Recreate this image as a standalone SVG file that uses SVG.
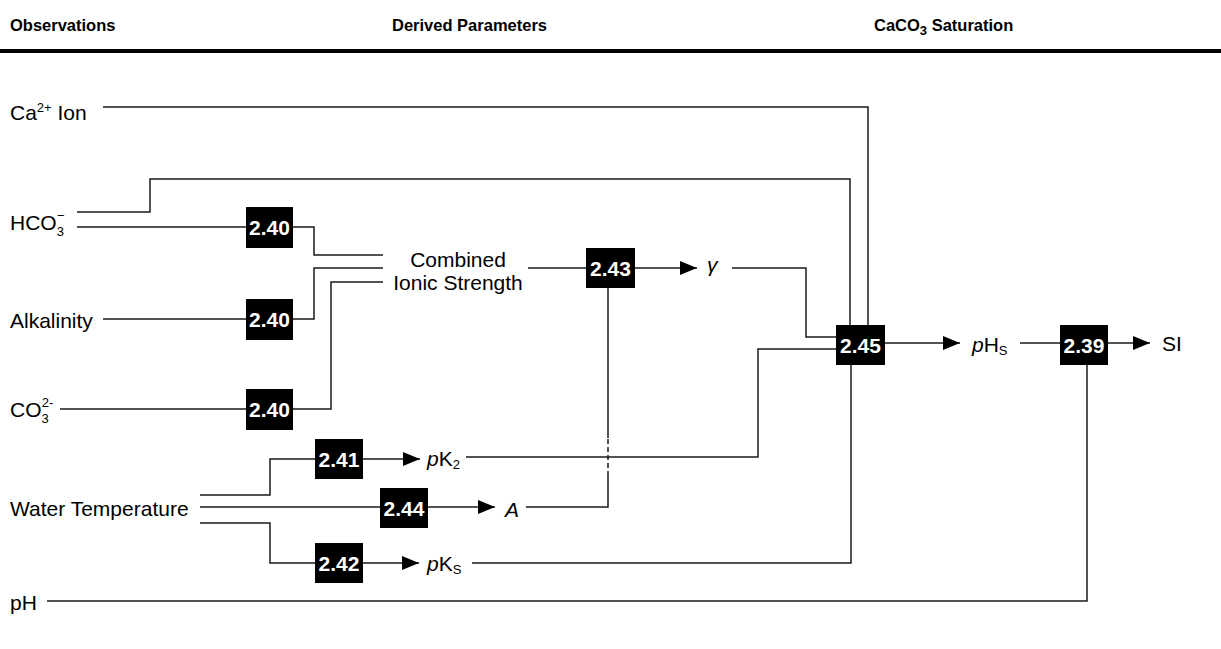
<svg xmlns="http://www.w3.org/2000/svg" width="1221" height="649" viewBox="0 0 1221 649">
<style>
.h{font-family:"Liberation Sans",Arial,sans-serif;font-size:16.5px;font-weight:bold;fill:#000}
.t{font-family:"Liberation Sans",Arial,sans-serif;font-size:21px;fill:#000}
.s{font-size:13px}
.i{font-style:italic}
.bx{fill:#000}
.bt{font-family:"Liberation Sans",Arial,sans-serif;font-size:21px;font-weight:bold;fill:#fff;text-anchor:middle}
.c{fill:none;stroke:#1a1a1a;stroke-width:1.5}
.a{marker-end:url(#arr)}
</style>
<defs>
<marker id="arr" markerWidth="17" markerHeight="14" refX="17" refY="7" orient="auto" markerUnits="userSpaceOnUse">
<path d="M0,0 L17,7 L0,14 Z" fill="#000"/>
</marker>
</defs>
<g id="headers">
<text class="h" x="10" y="31">Observations</text>
<text class="h" x="392" y="31">Derived Parameters</text>
<text class="h" x="874" y="31">CaCO<tspan class="s" dy="4">3</tspan><tspan dy="-4"> Saturation</tspan></text>
<rect x="0" y="49" width="1221" height="4" fill="#000"/>
</g>
<g id="connectors">
<path class="c" d="M103,107 H868 V325"/>
<path class="c" d="M77,212 H150 V179 H850 V325"/>
<path class="c" d="M77,227 H246"/>
<path class="c" d="M293,227 H314 V255 H383"/>
<path class="c" d="M103,319 H246"/>
<path class="c" d="M293,319 H314 V268 H383"/>
<path class="c" d="M60,409 H246"/>
<path class="c" d="M293,409 H331 V282 H383"/>
<path class="c" d="M528,268 H586"/>
<path class="c a" d="M635,268 H697"/>
<path class="c" d="M732,268 H806 V337 H836"/>
<path class="c" d="M200,495 H270 V459 H315"/>
<path class="c a" d="M363,459 H420"/>
<path class="c" d="M466,457 H758 V349 H836"/>
<path class="c" d="M200,507 H380"/>
<path class="c a" d="M428,507 H495"/>
<path class="c" d="M526,507 H608 V476"/>
<path class="c" d="M608,476 V438" stroke-dasharray="5,3"/>
<path class="c" d="M608,438 V288"/>
<path class="c" d="M200,523 H270 V563 H315"/>
<path class="c a" d="M363,563 H419"/>
<path class="c" d="M472,563 H851 V365"/>
<path class="c a" d="M885,343 H960"/>
<path class="c" d="M1020,343 H1060"/>
<path class="c a" d="M1108,343 H1150"/>
<path class="c" d="M47,601 H1087 V365"/>
</g>
<g id="n-ca"><text class="t" x="10" y="120">Ca<tspan class="s" dy="-8">2+</tspan><tspan dy="8"> Ion</tspan></text></g>
<g id="n-hco3"><text class="t" x="10" y="230">HCO<tspan class="s" dy="6">3</tspan><tspan class="s" dx="-7" dy="-16">−</tspan></text></g>
<g id="n-alk"><text class="t" x="10" y="328">Alkalinity</text></g>
<g id="n-co3"><text class="t" x="10" y="417">CO<tspan class="s" dy="6">3</tspan><tspan class="s" dx="-7" dy="-16">2-</tspan></text></g>
<g id="n-wt"><text class="t" x="10" y="516">Water Temperature</text></g>
<g id="n-ph"><text class="t" x="10" y="610">pH</text></g>
<g id="n-b1"><rect class="bx" x="246" y="207" width="47" height="41"/><text class="bt" x="269.5" y="235">2.40</text></g>
<g id="n-b2"><rect class="bx" x="246" y="299" width="47" height="41"/><text class="bt" x="269.5" y="327">2.40</text></g>
<g id="n-b3"><rect class="bx" x="246" y="389" width="47" height="41"/><text class="bt" x="269.5" y="417">2.40</text></g>
<g id="n-cis"><text class="t" x="458" y="267" text-anchor="middle">Combined</text><text class="t" x="458" y="290" text-anchor="middle">Ionic Strength</text></g>
<g id="n-b43"><rect class="bx" x="586" y="248" width="49" height="40"/><text class="bt" x="610.5" y="276">2.43</text></g>
<g id="n-gamma"><text class="t i" x="707" y="272">γ</text></g>
<g id="n-b41"><rect class="bx" x="315" y="439" width="48" height="40"/><text class="bt" x="339" y="467">2.41</text></g>
<g id="n-pk2"><text class="t" x="427" y="466"><tspan class="i">p</tspan>K<tspan class="s" dy="3">2</tspan></text></g>
<g id="n-b44"><rect class="bx" x="380" y="488" width="48" height="40"/><text class="bt" x="404" y="516">2.44</text></g>
<g id="n-A"><text class="t i" x="505" y="517">A</text></g>
<g id="n-b42"><rect class="bx" x="315" y="543" width="48" height="40"/><text class="bt" x="339" y="571">2.42</text></g>
<g id="n-pks"><text class="t" x="427" y="571"><tspan class="i">p</tspan>K<tspan class="s" dy="3">S</tspan></text></g>
<g id="n-b45"><rect class="bx" x="836" y="325" width="49" height="40"/><text class="bt" x="860.5" y="353">2.45</text></g>
<g id="n-phs"><text class="t" x="972" y="352"><tspan class="i">p</tspan>H<tspan class="s" dy="3">S</tspan></text></g>
<g id="n-b39"><rect class="bx" x="1060" y="325" width="48" height="40"/><text class="bt" x="1084" y="353">2.39</text></g>
<g id="n-si"><text class="t" x="1162" y="351">SI</text></g>
</svg>
